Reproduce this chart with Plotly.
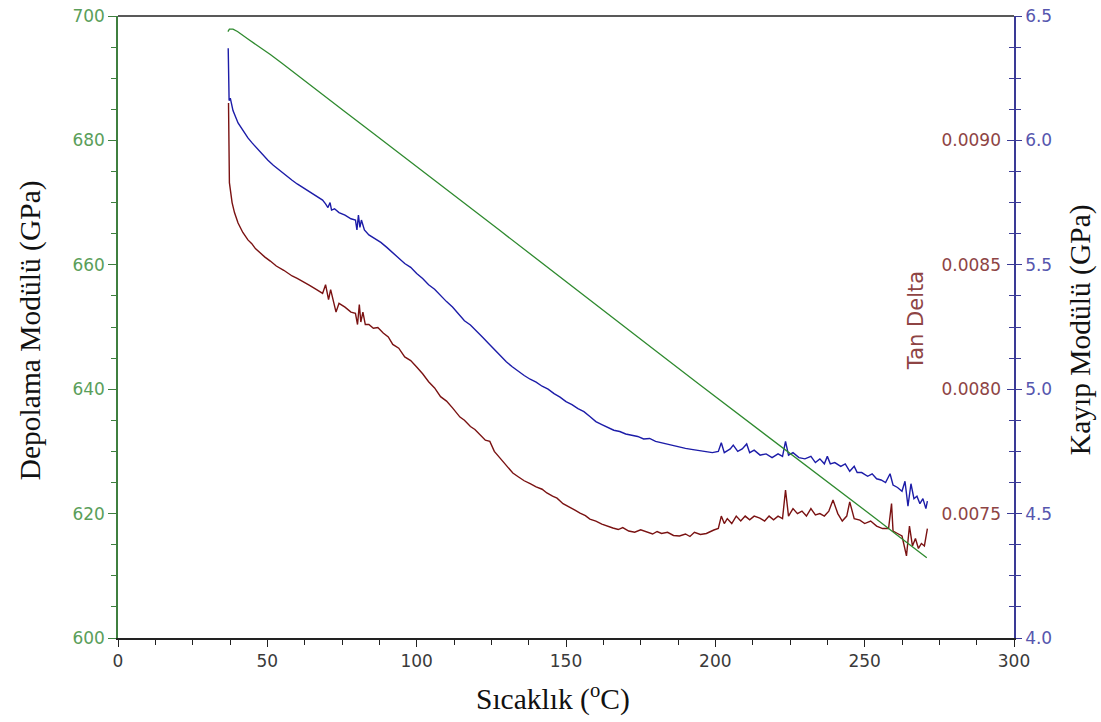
import plotly.graph_objects as go

# ---------------- data ----------------
# Storage modulus (Depolama Modülü, GPa) - left axis
green_T = [36.8, 37.3, 38.5, 40.0, 43.5, 47.0, 51.0, 54.9, 60.0, 66.0, 71.0, 76.0, 85.0, 94.4,
           110.0, 127.9, 145.0, 164.7, 180.0, 194.8, 205.0, 214.9, 224.0, 229.3, 237.0, 245.0,
           254.0, 261.8, 266.0, 270.8]
green_V = [697.5, 697.9, 697.9, 697.5, 696.3, 695.2, 693.8, 692.4, 690.5, 688.2, 686.4, 684.6,
           681.3, 677.8, 672.1, 665.5, 659.2, 651.8, 646.2, 640.7, 637.0, 633.4, 630.0, 628.1,
           625.3, 622.4, 619.1, 616.2, 614.7, 612.9]

# Loss modulus (Kayıp Modülü, GPa) - right axis
blue_T = [36.9, 37.2, 37.6, 38.5, 40.2, 41.5, 42.5, 43.5, 44.9, 46.0, 47.5, 49.0, 50.2, 52.0,
          54.0, 56.0, 58.3, 60.0, 62.0, 64.0, 66.0, 68.5, 69.5, 70.3, 71.0, 71.5, 72.5, 74.0,
          76.0, 78.0, 79.5, 80.0, 80.5, 81.0, 81.5, 82.5, 84.0, 86.0, 88.0, 90.0, 92.0, 94.4,
          96.0, 98.0, 100.0, 102.0, 104.0, 106.0, 108.0, 110.0, 112.0, 114.0, 116.0, 118.0,
          120.0, 122.0, 124.0, 126.0, 128.0, 130.0, 132.0, 134.0, 136.0, 138.0, 140.0, 142.0,
          144.0, 146.0, 148.0, 150.0, 152.0, 154.0, 156.0, 158.0, 160.0, 162.0, 164.0, 166.0,
          168.0, 170.0, 172.0, 174.0, 176.0, 178.0, 180.0, 182.0, 184.0, 186.0, 188.0, 190.0,
          192.0, 194.0, 196.0, 198.0, 199.0, 201.0, 202.0, 203.0, 205.0, 206.0, 207.5, 209.0,
          210.5, 211.5, 213.0, 215.0, 217.0, 219.0, 221.0, 222.5, 223.5, 224.5, 226.0, 228.0,
          230.0, 232.0, 233.5, 235.0, 236.5, 237.5, 238.5, 240.0, 242.0, 243.5, 245.0, 246.5,
          247.5, 249.0, 251.0, 252.5, 254.0, 255.5, 257.0, 258.5, 259.5, 261.0, 262.5, 263.5,
          264.5, 265.5, 266.5, 267.5, 268.5, 269.5, 270.5, 271.0]
blue_V = [6.37, 6.16, 6.17, 6.12, 6.07, 6.045, 6.03, 6.01, 5.99, 5.975, 5.955, 5.935, 5.92, 5.90,
          5.88, 5.86, 5.84, 5.825, 5.81, 5.795, 5.78, 5.76, 5.745, 5.73, 5.75, 5.72, 5.725, 5.71,
          5.70, 5.685, 5.68, 5.64, 5.70, 5.65, 5.68, 5.64, 5.62, 5.605, 5.59, 5.57, 5.548, 5.52,
          5.505, 5.49, 5.465, 5.445, 5.42, 5.402, 5.375, 5.352, 5.33, 5.302, 5.275, 5.258,
          5.232, 5.21, 5.185, 5.16, 5.135, 5.11, 5.09, 5.072, 5.055, 5.04, 5.028, 5.012,
          5.00, 4.982, 4.968, 4.95, 4.938, 4.922, 4.91, 4.89, 4.87, 4.858, 4.845, 4.835,
          4.83, 4.82, 4.815, 4.81, 4.80, 4.802, 4.79, 4.784, 4.78, 4.772, 4.765, 4.762,
          4.758, 4.755, 4.75, 4.748, 4.745, 4.75, 4.785, 4.745, 4.76, 4.775, 4.75, 4.76,
          4.78, 4.745, 4.755, 4.735, 4.74, 4.725, 4.74, 4.73, 4.79, 4.735, 4.745, 4.725,
          4.72, 4.73, 4.705, 4.72, 4.70, 4.73, 4.70, 4.705, 4.69, 4.70, 4.67, 4.69,
          4.665, 4.665, 4.65, 4.66, 4.64, 4.635, 4.625, 4.66, 4.615, 4.605, 4.59, 4.63,
          4.53, 4.62, 4.56, 4.57, 4.54, 4.56, 4.52, 4.55]

# Tan Delta - inner right scale
red_T = [37.0, 37.3, 38.2, 39.0, 40.2, 41.8, 43.5, 44.8, 46.0, 47.5, 49.2, 51.0, 53.0, 55.5,
         58.3, 60.0, 62.0, 64.0, 66.5, 68.5, 69.5, 70.5, 71.2, 72.0, 73.0, 74.0, 76.0, 78.0,
         79.5, 80.2, 80.8, 81.3, 82.0, 82.8, 84.0, 85.5, 87.0, 88.8, 90.5, 92.0, 94.0, 96.0,
         98.0, 100.0, 102.0, 104.0, 106.0, 108.0, 110.0, 112.0, 114.5, 116.0, 118.0, 119.5,
         121.2, 123.0, 124.5, 126.0, 128.0, 130.0, 132.2, 134.0, 136.0, 138.0, 140.0, 142.0,
         143.6, 145.5, 147.0, 149.0, 151.0, 153.0, 154.7, 156.5, 158.0, 160.0, 162.0, 164.0,
         165.7, 167.5, 169.0, 171.0, 173.0, 175.0, 177.0, 179.0, 180.5, 182.0, 184.0, 186.0,
         188.0, 190.0, 191.5, 193.0, 195.0, 197.0, 199.5, 201.0, 202.0, 203.0, 204.0, 205.5,
         207.0, 208.5, 210.0, 211.5, 213.0, 214.9, 216.5, 218.0, 219.5, 221.0, 222.5, 223.5,
         224.5, 226.0, 227.5, 229.0, 230.5, 232.0, 233.5, 235.0, 236.5, 238.0, 239.4, 241.0,
         242.5, 244.0, 245.0, 246.5, 248.4, 250.0, 252.0, 254.0, 256.0, 258.0, 259.0, 259.5,
         261.0, 262.5, 264.0, 265.0, 266.0, 267.0, 268.0, 269.0, 270.0, 271.0]
red_V = [0.00915, 0.00883, 0.00875, 0.00871, 0.008668, 0.00863, 0.0086, 0.008585, 0.008565,
         0.008548, 0.008531, 0.008515, 0.008495, 0.008478, 0.008455, 0.008445, 0.00843, 0.008418,
         0.0084, 0.008385, 0.00842, 0.00836, 0.0084, 0.00836, 0.00831, 0.008345, 0.00833, 0.00831,
         0.008305, 0.00826, 0.00834, 0.00827, 0.00831, 0.00826, 0.00826, 0.008245, 0.008248,
         0.008226, 0.00821, 0.00818, 0.008165, 0.00813, 0.008115, 0.008089, 0.008062, 0.00803,
         0.008005, 0.00797, 0.007952, 0.007925, 0.007888, 0.007875, 0.00785, 0.007838,
         0.007816, 0.007795, 0.00779, 0.00775, 0.007722, 0.007695, 0.007663, 0.007648, 0.007632,
         0.00762, 0.007607, 0.007598, 0.007583, 0.00757, 0.007562, 0.00754, 0.007528, 0.007514,
         0.007502, 0.007492, 0.007478, 0.00747, 0.007458, 0.007448, 0.007442, 0.007436,
         0.007444, 0.00743, 0.007425, 0.007435, 0.007426, 0.007418, 0.007428, 0.00742,
         0.007425, 0.007412, 0.00741, 0.007418, 0.007408, 0.007425, 0.007416, 0.00742,
         0.007434, 0.00744, 0.00749, 0.00746, 0.00748, 0.00746, 0.00749, 0.00747, 0.00749,
         0.007475, 0.00749, 0.007482, 0.00747, 0.00749, 0.007475, 0.00749, 0.00748, 0.007595,
         0.00749, 0.00752, 0.0075, 0.00751, 0.00749, 0.00752, 0.007495, 0.0075, 0.00749,
         0.00751, 0.007555, 0.0075, 0.00747, 0.00749, 0.007547, 0.00748, 0.007474, 0.00746,
         0.00747, 0.00745, 0.00744, 0.00744, 0.00754, 0.00743, 0.00742, 0.00741, 0.00733,
         0.00745, 0.00737, 0.0074, 0.00736, 0.00738, 0.00737, 0.00744]

x_ticks = [0, 50, 100, 150, 200, 250, 300]
left_ticks = [600, 620, 640, 660, 680, 700]
right_ticks = [4.0, 4.5, 5.0, 5.5, 6.0, 6.5]
right_labels = ["4.0", "4.5", "5.0", "5.5", "6.0", "6.5"]
tan_ticks = [0.0075, 0.0080, 0.0085, 0.0090]
tan_labels = ["0.0075", "0.0080", "0.0085", "0.0090"]

# ---------------- styling ----------------
GREEN_LINE = "#2f8a2f"
GREEN_AXIS = "#3f7f3f"
GREEN_TXT = "#5a9e5a"
BLUE_LINE = "#1c1ca8"
BLUE_AXIS = "#3a3a96"
BLUE_TXT = "#5656ae"
RED_LINE = "#7a1212"
RED_TXT = "#8e4444"
TICK_FONT = "DejaVu Sans"
TITLE_FONT = "Liberation Serif, Times New Roman, serif"
TICK_SIZE = 17
TITLE_SIZE = 29.5

fig = go.Figure()

fig.add_trace(go.Scatter(x=red_T, y=red_V, mode="lines", yaxis="y4",
                         line=dict(color=RED_LINE, width=1.4), showlegend=False,
                         name="Tan Delta"))
fig.add_trace(go.Scatter(x=blue_T, y=blue_V, mode="lines", yaxis="y2",
                         line=dict(color=BLUE_LINE, width=1.4), showlegend=False,
                         name="Kayıp Modülü"))
fig.add_trace(go.Scatter(x=[0], y=[None], mode="lines", yaxis="y3", showlegend=False,
                         hoverinfo="skip"))
fig.add_trace(go.Scatter(x=green_T, y=green_V, mode="lines", yaxis="y5",
                         line=dict(color=GREEN_LINE, width=1.3), showlegend=False,
                         name="Depolama Modülü"))
fig.add_trace(go.Scatter(x=[0], y=[None], mode="lines", yaxis="y", showlegend=False,
                         hoverinfo="skip"))

fig.update_layout(
    width=1101, height=722,
    margin=dict(l=118, r=87, t=16, b=84, autoexpand=False),
    paper_bgcolor="white", plot_bgcolor="white",
    xaxis=dict(range=[0, 300], tickvals=x_ticks, ticks="outside", ticklen=7, tickwidth=1,
               tickcolor="#222", showline=True, linecolor="#222", linewidth=1.5,
               showgrid=False, zeroline=False, automargin=False,
               tickfont=dict(family=TICK_FONT, size=TICK_SIZE, color="#3a3a3a"),
               minor=dict(dtick=12.5, ticks="outside", ticklen=5, tickcolor="#222",
                          showgrid=False)),
    yaxis=dict(range=[600, 700], tickvals=left_ticks, ticks="outside", ticklen=8,
               tickcolor=GREEN_AXIS, showline=True, linecolor=GREEN_AXIS, linewidth=1.5,
               showgrid=False, zeroline=False, automargin=False,
               tickfont=dict(family=TICK_FONT, size=TICK_SIZE, color=GREEN_TXT),
               minor=dict(dtick=5, ticks="outside", ticklen=5, tickcolor=GREEN_AXIS,
                          showgrid=False)),
    yaxis5=dict(range=[600, 700], overlaying="y", anchor="x", visible=False,
                automargin=False),
    yaxis2=dict(range=[4.0, 6.5], overlaying="y", side="right", anchor="x",
                tickvals=right_ticks, ticktext=right_labels, ticks="outside", ticklen=6,
                tickcolor=BLUE_AXIS, showline=True, linecolor=BLUE_AXIS, linewidth=1.5,
                showgrid=False, zeroline=False, automargin=False,
                tickfont=dict(family=TICK_FONT, size=TICK_SIZE, color=BLUE_TXT),
                minor=dict(dtick=0.125, ticks="outside", ticklen=5, tickcolor=BLUE_AXIS,
                           showgrid=False)),
    yaxis3=dict(range=[4.0, 6.5], overlaying="y", side="right", anchor="x",
                tickvals=right_ticks, ticks="inside", ticklen=7, tickcolor=BLUE_AXIS,
                showticklabels=False, showline=False, showgrid=False, zeroline=False,
                automargin=False,
                minor=dict(dtick=0.125, ticks="inside", ticklen=5, tickcolor=BLUE_AXIS,
                           showgrid=False)),
    yaxis4=dict(range=[0.0070, 0.0095], overlaying="y", side="left", anchor="free",
                position=1.0, tickvals=tan_ticks, ticktext=tan_labels, ticks="",
                ticklabelstandoff=13,
                showline=False, showgrid=False, zeroline=False, automargin=False,
                tickfont=dict(family=TICK_FONT, size=TICK_SIZE, color=RED_TXT)),
    shapes=[dict(type="line", xref="paper", yref="paper", x0=0, x1=1, y0=1, y1=1,
                 line=dict(color="#222", width=1.5))],
    annotations=[
        dict(text="Depolama Modülü (GPa)", xref="paper", yref="paper", x=-0.098, y=0.495,
             xanchor="center", yanchor="middle", textangle=-90, showarrow=False,
             font=dict(family=TITLE_FONT, size=TITLE_SIZE, color="#111")),
        dict(text="Kayıp Modülü (GPa)", xref="paper", yref="paper", x=1.0737, y=0.495,
             xanchor="center", yanchor="middle", textangle=-90, showarrow=False,
             font=dict(family=TITLE_FONT, size=TITLE_SIZE, color="#111")),
        dict(text="Sıcaklık (<sup>o</sup>C)", xref="paper", yref="paper", x=0.4855, y=-0.095,
             xanchor="center", yanchor="middle", showarrow=False,
             font=dict(family=TITLE_FONT, size=TITLE_SIZE, color="#111")),
        dict(text="Tan Delta", xref="paper", yref="paper", x=0.8906, y=0.511,
             xanchor="center", yanchor="middle", textangle=-90, showarrow=False,
             font=dict(family=TICK_FONT, size=21, color=RED_TXT)),
    ],
)

fig.write_html("out.html")
